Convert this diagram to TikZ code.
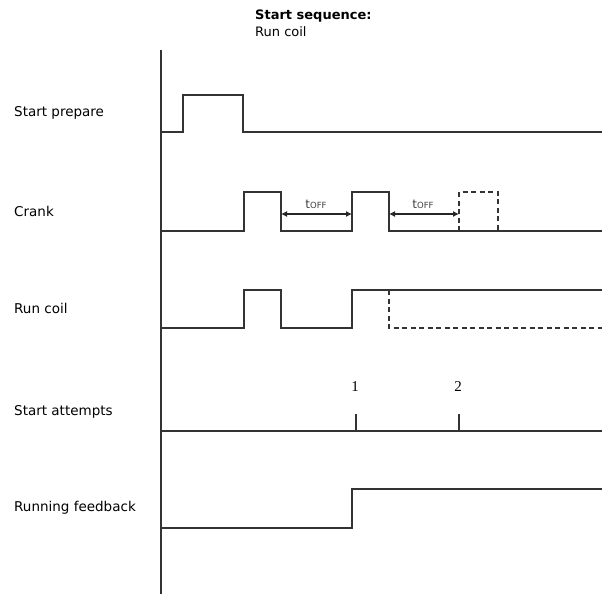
\documentclass[tikz,border=0pt]{standalone}
\usepackage{fontspec}
\setmainfont{DejaVu Sans}
\newfontfamily\numfont{Liberation Serif}
\usetikzlibrary{arrows.meta}
\begin{document}
\begin{tikzpicture}[x=1pt,y=-1pt,
sig/.style={line width=1.3pt,draw=black!80},
ghost/.style={sig,dash pattern=on 5pt off 3.5pt},
lbl/.style={anchor=west,inner sep=0pt,font=\fontsize{13.5}{15}\selectfont},
num/.style={inner sep=0pt,font=\numfont\fontsize{15}{17}\selectfont},
toff/.style={inner sep=0pt,text=black!75,font=\fontsize{12}{14}\selectfont},
dim/.style={{Latex[length=6pt,width=6pt]}-{Latex[length=6pt,width=6pt]},line width=1.1pt,black!85}
]
\useasboundingbox (0,0) rectangle (602,594);
% time axis and title
\draw[sig] (161,50) -- (161,594);
\node[anchor=north west,inner sep=0pt,align=left,font=\fontsize{13}{17}\selectfont] (title) at (255,10) {\textbf{Start sequence:}\\Run coil};
% row labels
\node[lbl] (prep) at (14,113) {Start prepare};
\node[lbl] (crank) at (14,211) {Crank};
\node[lbl] (coil) at (14,308) {Run coil};
\node[lbl] (att) at (14,412) {Start attempts};
\node[lbl] (fb) at (14,508) {Running feedback};
% start prepare
\draw[sig] (161,132) -| (183,95) -| (243,132) -- (602,132);
% crank
\draw[sig] (161,231) -| (244,192) -| (281,231) -| (352,192) -| (389,231) -- (602,231);
\draw[ghost] (459,231) |- (498,192) -- (498,231);
\coordinate (off1a) at (281,214);
\coordinate (off1b) at (352,214);
\coordinate (off2a) at (389,214);
\coordinate (off2b) at (459,214);
\draw[dim] (off1a) -- (off1b);
\draw[dim] (off2a) -- (off2b);
\node[toff] (t1) at (316,204) {t{\fontsize{8.5}{9}\selectfont OFF}};
\node[toff] (t2) at (423,204) {t{\fontsize{8.5}{9}\selectfont OFF}};
% run coil
\draw[sig] (161,328) -| (244,290) -| (281,328) -| (352,290) -- (602,290);
\draw[ghost] (389,290) |- (602,328);
% start attempts
\draw[sig] (161,431) -- (602,431);
\coordinate (a1) at (356,431);
\coordinate (a2) at (459,431);
\draw[sig] (a1) -- ++(0,-17);
\draw[sig] (a2) -- ++(0,-17);
\node[num] (n1) at (355,387) {1};
\node[num] (n2) at (458,387) {2};
% running feedback
\draw[sig] (161,528) -| (352,489) -- (602,489);
\end{tikzpicture}
\end{document}
